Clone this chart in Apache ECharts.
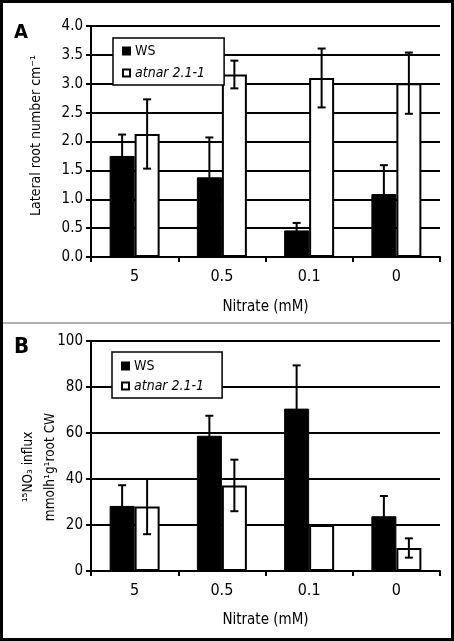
<!DOCTYPE html>
<html><head><meta charset="utf-8">
<script src="https://cdn.jsdelivr.net/npm/echarts@6/dist/echarts.min.js"></script>
<style>html,body{margin:0;padding:0;background:#fff}#c{width:454px;height:641px}</style>
</head><body><div id="c"></div>
<script>
const categories = ['5', '0.5', '0.1', '0'];
const seriesNames = ['WS', 'atnar 2.1-1'];
// Panel A: lateral root number cm-1
const lateralWS = [1.75, 1.38, 0.46, 1.09];
const lateralWSErr = [0.37, 0.69, 0.13, 0.50];
const lateralMut = [2.13, 3.16, 3.10, 3.01];
const lateralMutErr = [0.60, 0.24, 0.51, 0.53];
const ticksA = [0, 0.5, 1.0, 1.5, 2.0, 2.5, 3.0, 3.5, 4.0];
// Panel B: 15NO3 influx
const influxWS = [28.3, 58.8, 70.6, 23.8];
const influxWSErr = [9.0, 8.7, 18.8, 8.8];
const influxMut = [28.0, 37.2, 20.0, 10.0];
const influxMutErr = [12.0, 11.2, 0, 4.2];
const ticksB = [0, 20, 40, 60, 80, 100];

const FONT = "'Liberation Sans Narrow', 'DejaVu Sans Condensed', sans-serif";
const BAR_W = 25;
const chart = echarts.init(document.getElementById('c'));

function errRender(side) {
  return function (params, api) {
    const i = api.value(0), v = api.value(1), e = api.value(2);
    if (!e) return null;
    const c = api.coord([i, v]);
    const t = api.coord([i, v + e]);
    const b = api.coord([i, v - e]);
    const x = c[0] + side * BAR_W / 2;
    const cap = 4;
    const st = { stroke: '#000', lineWidth: 2 };
    return {
      type: 'group',
      children: [
        { type: 'line', shape: { x1: x, y1: t[1], x2: x, y2: b[1] }, style: st },
        { type: 'line', shape: { x1: x - cap, y1: t[1], x2: x + cap, y2: t[1] }, style: st },
        { type: 'line', shape: { x1: x - cap, y1: b[1], x2: x + cap, y2: b[1] }, style: st }
      ]
    };
  };
}

function xAxisCfg(gi, gap) {
  return {
    type: 'category', gridIndex: gi, data: categories, boundaryGap: true,
    name: 'Nitrate (mM)', nameLocation: 'middle', nameGap: gap, nameMoveOverlap: false,
    nameTextStyle: { fontFamily: FONT, fontSize: 15, color: '#000' },
    axisLine: { lineStyle: { color: '#000', width: 2 } },
    axisTick: { show: true, interval: 0, length: 5, lineStyle: { color: '#000', width: 2 } },
    axisLabel: { fontFamily: FONT, fontSize: 16, color: '#000', margin: 12 },
    splitLine: { show: false }
  };
}
function yAxisCfg(gi, ticks, dec, name, pad, gap, fs) {
  return {
    type: 'value', gridIndex: gi, min: ticks[0], max: ticks[ticks.length - 1],
    interval: ticks[1] - ticks[0],
    name: name, nameLocation: 'middle', nameGap: gap, nameRotate: 90, nameMoveOverlap: false,
    nameTextStyle: { fontFamily: FONT, fontSize: fs, color: '#000', lineHeight: 22, padding: pad },
    axisLine: { show: true, lineStyle: { color: '#000', width: 2 } },
    axisTick: { show: true, length: 5, lineStyle: { color: '#000', width: 2 } },
    axisLabel: { fontFamily: FONT, fontSize: 15, color: '#000', margin: 8,
      formatter: v => v.toFixed(dec) },
    splitLine: { show: true, lineStyle: { color: '#000', width: 2 } }
  };
}
function legendCfg(left, top, pad, gap, names) {
  return {
    left: left, top: top, orient: 'vertical', icon: 'rect',
    itemWidth: 7, itemHeight: 7, itemGap: gap, padding: pad,
    backgroundColor: '#fff', borderColor: '#000', borderWidth: 1.5, borderRadius: 0,
    textStyle: { fontFamily: FONT, fontSize: 14, color: '#000', lineHeight: 14 },
    selectedMode: false,
    data: [
      { name: names[0] },
      { name: names[1], textStyle: { fontStyle: 'italic' } }
    ]
  };
}
function barSeries(name, xi, data, white) {
  return {
    type: 'bar', name: name, xAxisIndex: xi, yAxisIndex: xi, data: data,
    barWidth: BAR_W, barGap: '0%',
    itemStyle: white ? { color: '#fff', borderColor: '#000', borderWidth: 2 }
                     : { color: '#000', borderColor: '#000', borderWidth: 1 }
  };
}
function errSeries(xi, vals, errs, side) {
  return {
    type: 'custom', xAxisIndex: xi, yAxisIndex: xi, z: 5,
    renderItem: errRender(side),
    encode: { x: 0, y: 1 },
    data: vals.map((v, i) => [i, v, errs[i]])
  };
}

chart.setOption({
  animation: false,
  backgroundColor: '#fff',
  grid: [
    { left: 91, top: 26, width: 349, height: 231, outerBoundsMode: 'none', containLabel: false },
    { left: 91, top: 341, width: 349, height: 230, outerBoundsMode: 'none', containLabel: false }
  ],
  xAxis: [xAxisCfg(0, 43), xAxisCfg(1, 42)],
  yAxis: [
    yAxisCfg(0, ticksA, 1, 'Lateral root number cm\u207B\u00B9', [0, 0, 0, 12], 44, 14),
    yAxisCfg(1, ticksB, 0, '\u00B9\u2075NO\u2083 influx\nmmolh\u00B9g\u00B9root CW', [0, 22, 0, 0], 30, 13.5)
  ],
  legend: [
    legendCfg(113, 38, [6, 19, 5, 9], 8, seriesNames),
    legendCfg(112, 352, [7, 18, 5, 9], 6, seriesNames)
  ],
  series: [
    barSeries(seriesNames[0], 0, lateralWS, false),
    barSeries(seriesNames[1], 0, lateralMut, true),
    errSeries(0, lateralWS, lateralWSErr, -1),
    errSeries(0, lateralMut, lateralMutErr, 1),
    barSeries(seriesNames[0], 1, influxWS, false),
    barSeries(seriesNames[1], 1, influxMut, true),
    errSeries(1, influxWS, influxWSErr, -1),
    errSeries(1, influxMut, influxMutErr, 1)
  ],
  graphic: [
    { type: 'rect', shape: { x: 1.5, y: 1.5, width: 451, height: 638 },
      style: { fill: 'none', stroke: '#000', lineWidth: 3 }, z: 100 },
    { type: 'line', shape: { x1: 3, y1: 323, x2: 451, y2: 323 },
      style: { stroke: '#b0b0b0', lineWidth: 2 }, z: 100 },
    { type: 'text', left: 14, top: 23, style: { text: 'A', fontFamily: FONT, fontSize: 20, fontWeight: 'bold', fill: '#000' } },
    { type: 'text', left: 14, top: 336, style: { text: 'B', fontFamily: FONT, fontSize: 22, fontWeight: 'bold', fill: '#000' } }
  ]
});
</script></body></html>
